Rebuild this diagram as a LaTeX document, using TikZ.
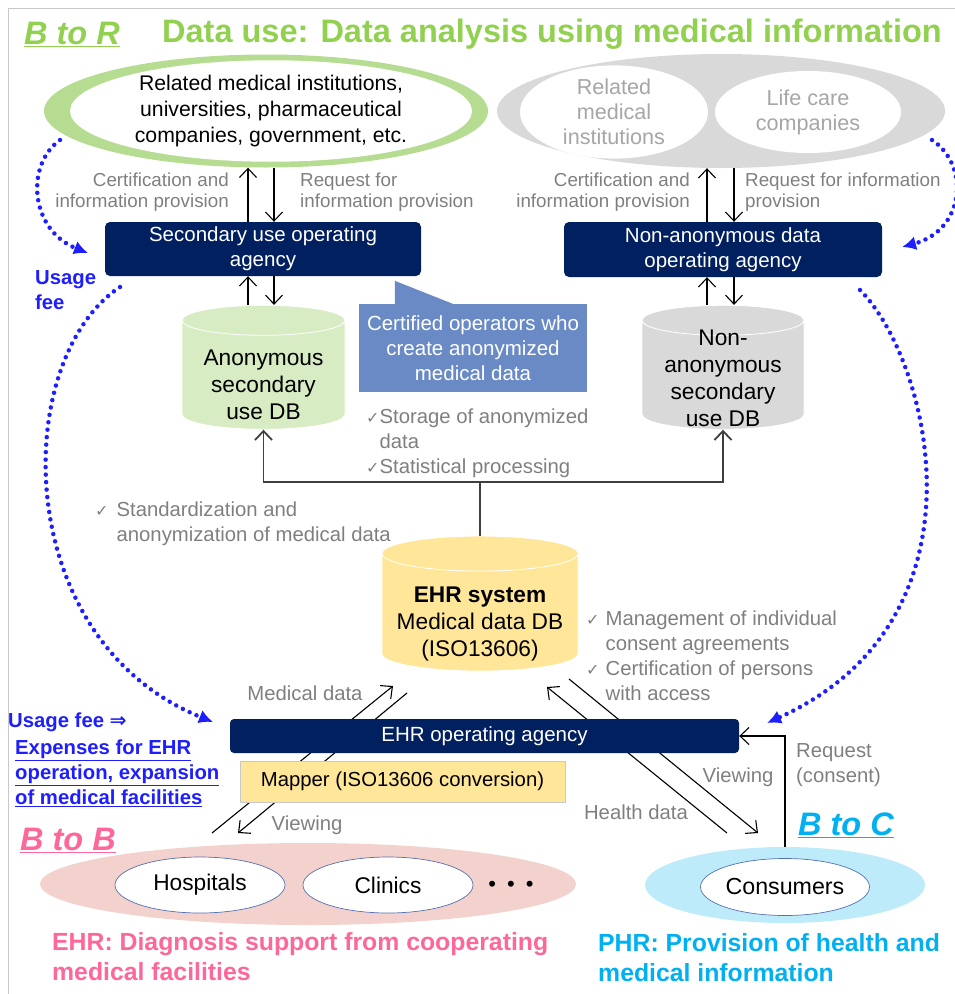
\documentclass[tikz,border=0pt]{standalone}
\usepackage{fontspec}
\setmainfont{Liberation Sans}
\newfontfamily\symfont{DejaVu Sans}
\usetikzlibrary{arrows.meta,shapes.geometric,backgrounds}
\definecolor{navy}{HTML}{002060}
\definecolor{leafgreen}{HTML}{92D050}
\definecolor{ringgreen}{HTML}{B5DC91}
\definecolor{dbgreen}{HTML}{D8ECC4}
\definecolor{ringgray}{HTML}{D9D9D9}
\definecolor{txtgray}{HTML}{7F7F7F}
\definecolor{softgray}{HTML}{A6A6A6}
\definecolor{darkline}{HTML}{404040}
\definecolor{callblue}{HTML}{6A8AC6}
\definecolor{ehryellow}{HTML}{FFE699}
\definecolor{bbpink}{HTML}{FF6699}
\definecolor{ringpink}{HTML}{F3D1CD}
\definecolor{bccyan}{HTML}{00B0F0}
\definecolor{ringcyan}{HTML}{BDEBFA}
\definecolor{feeblue}{HTML}{1E1EFF}
\definecolor{rimblue}{HTML}{5570B0}
\definecolor{framegray}{HTML}{C8C8C8}
\newcommand{\chk}{{\symfont\fontsize{16}{16}\selectfont ✓}}
\tikzset{>={Straight Barb[length=9pt,width=17pt]}}
\tikzset{
  ring/.style={ellipse, inner sep=0pt, align=center},
  agency/.style={fill=navy, rounded corners=5pt, text=white, align=center, font=\fontsize{20.5}{25}\selectfont},
  db/.style={cylinder, shape border rotate=90, aspect=0.2, draw=white, line width=0.8pt, inner sep=0pt, text width=#1},
  dbtext/.style={align=center, inner sep=0pt, font=\fontsize{22.7}{27}\selectfont},
  note/.style={text=txtgray, align=left, inner sep=0pt, font=\fontsize{20.3}{25}\selectfont},
  tag/.style={note, font=\fontsize{18.8}{21.5}\selectfont},
  flow/.style={->, line width=1.1pt},
  fee/.style={feeblue, line width=4.5pt, line cap=round, dash pattern=on 0pt off 7.5pt, -{Latex[length=14pt,width=14pt]}},
  head/.style={font=\fontsize{32.5}{36}\selectfont\bfseries, inner sep=0pt},
  feetext/.style={text=feeblue, font=\fontsize{20.3}{25}\selectfont\bfseries, align=left, anchor=west, inner sep=0pt},
  footer/.style={font=\fontsize{24.8}{30}\selectfont\bfseries, align=left, anchor=west, inner sep=0pt},
}
\begin{document}
\begin{tikzpicture}[x=1pt,y=-1pt]
\useasboundingbox (0,0) rectangle (955,994);
\draw[framegray, line width=1pt] (8,994) -- (8,8) -- (955,8);

% headings
\node[head, text=leafgreen] (bToR) at (72,34) {\underline{\itshape B to R}};
\node[head, text=leafgreen] (useTitle) at (552,34) {Data use: Data analysis using medical information};

% users of the data
\node[ring, fill=ringgreen, minimum width=444pt, minimum height=113pt] (ringL) at (266,111) {};
\node[ring, fill=white, minimum width=402pt, minimum height=96pt, font=\fontsize{21.2}{26}\selectfont] (instL) at (271,111)
  {Related medical institutions,\\universities, pharmaceutical\\companies, government, etc.};
\node[ring, fill=ringgray, minimum width=448pt, minimum height=114pt] (ringR) at (721,111) {};
\node[ring, fill=white, text=softgray, minimum width=188pt, minimum height=82pt, font=\fontsize{21.6}{25}\selectfont] (instR) at (614,112)
  {Related\\medical\\institutions};
\node[ring, fill=white, text=softgray, minimum width=186pt, minimum height=82pt, font=\fontsize{21.6}{25}\selectfont] (lifeR) at (808,112)
  {Life care\\companies};

% operating agencies
\node[agency, minimum width=316pt, minimum height=54pt] (secAg) at (263,249) {Secondary use operating\\agency};
\node[agency, minimum width=318pt, minimum height=55pt] (nonAg) at (723,249.5) {Non-anonymous data\\operating agency};

\draw[flow] ([xshift=-15pt]secAg.north) -- ([xshift=-18pt]ringL.south);
\draw[flow] ([xshift=8pt]ringL.south) -- ([xshift=11pt]secAg.north);
\draw[flow] ([xshift=-16pt]nonAg.north) -- ([xshift=-14pt]ringR.south);
\draw[flow] ([xshift=13pt]ringR.south) -- ([xshift=11pt]nonAg.north);
\node[tag, align=right, anchor=east] (certL) at (229,192) {Certification and\\information provision};
\node[tag, anchor=west] (reqL) at (300,192) {Request for\\information provision};
\node[tag, align=right, anchor=east] (certR) at (690,192) {Certification and\\information provision};
\node[tag, anchor=west] (reqR) at (745,192) {Request for information\\provision};

% secondary use databases
\node[db=150pt, fill=dbgreen, minimum width=163pt, minimum height=124pt] (anonDB) at (263.5,375) {};
\node[dbtext] (anonTxt) at ([yshift=-10pt]anonDB.center) {Anonymous\\secondary\\use DB};
\node[db=150pt, fill=ringgray, minimum width=162pt, minimum height=124pt] (nonDB) at (723,375) {};
\node[dbtext] (nonTxt) at ([yshift=-3pt]nonDB.center) {Non-\\anonymous\\secondary\\use DB};
\draw[flow] ([xshift=-15.5pt]anonDB.north) -- ([xshift=-15pt]secAg.south);
\draw[flow] ([xshift=11pt]secAg.south) -- ([xshift=10.5pt]anonDB.north);
\draw[flow] ([xshift=-16pt]nonDB.north) -- ([xshift=-16pt]nonAg.south);
\draw[flow] ([xshift=11pt]nonAg.south) -- ([xshift=11pt]nonDB.north);

\node[fill=callblue, text=white, minimum width=228pt, minimum height=88pt, align=center, font=\fontsize{20.5}{25}\selectfont] (callout) at (473,348)
  {Certified operators who\\create anonymized\\medical data};
\fill[callblue] (callout.north west) ++(36,0) -- ++(0,-23) -- ++(58,23) -- cycle;
\node[note, anchor=west] (storeNote) at (366,443) {\chk Storage of anonymized\\\hphantom{\chk}data\\\chk Statistical processing};
\node[note, anchor=west] (stdNote) at (95,524) {\chk\hspace{8pt}Standardization and\\\hphantom{\chk\hspace{8pt}}anonymization of medical data};

% EHR system
\node[db=175pt, fill=ehryellow, minimum width=196pt, minimum height=135pt] (ehrDB) at (480,612.5) {};
\node[dbtext] (ehrTxt) at ([yshift=-12pt]ehrDB.center) {\textbf{EHR system}\\Medical data DB\\(ISO13606)};
\draw[line width=1.8pt, darkline] (ehrDB.north) -- ++(0,-54) coordinate (split);
\draw[flow, line width=1.8pt, darkline] (split) -| (anonDB.south);
\draw[flow, line width=1.8pt, darkline] (split) -| (nonDB.south);
\node[note, anchor=west] (mgmtNote) at (586,656) {\chk\hspace{6pt}Management of individual\\\hphantom{\chk\hspace{6pt}}consent agreements\\\chk\hspace{6pt}Certification of persons\\\hphantom{\chk\hspace{6pt}}with access};

\node[agency, rounded corners=4pt, minimum width=509pt, minimum height=34pt] (ehrAg) at (484.5,736) {EHR operating agency};
\node[fill=ehryellow, draw=framegray, line width=0.6pt, minimum width=325pt, minimum height=41pt, font=\fontsize{20.3}{24}\selectfont] (mapper) at (402.5,781.5)
  {Mapper (ISO13606 conversion)};

% data flows behind the boxes
\coordinate (hospUp) at (212,833);   \coordinate (ehrInL) at (393,686);
\coordinate (ehrOutL) at (407,693);  \coordinate (hospDown) at (238,833);
\coordinate (consUp) at (727,833);   \coordinate (ehrInR) at (547,687);
\coordinate (ehrOutR) at (569,679);  \coordinate (consDown) at (758,833);
\begin{pgfonlayer}{background}
\draw[flow] (hospUp) -- (ehrInL);
\draw[flow] (ehrOutL) -- (hospDown);
\draw[flow] (consUp) -- (ehrInR);
\draw[flow] (ehrOutR) -- (consDown);
\end{pgfonlayer}
\node[note] (mdTag) at (305,693) {Medical data};
\node[note] (viewL) at (307,825) {Viewing};
\node[note] (healthTag) at (636,812) {Health data};
\node[note] (viewR) at (738,777) {Viewing};

% users of the EHR
\node[ring, fill=ringpink, minimum width=536pt, minimum height=82pt] (bbRing) at (308,884) {};
\node[ring, fill=white, draw=rimblue, line width=0.7pt, minimum width=170pt, minimum height=56pt, font=\fontsize{22.7}{26}\selectfont] (hosp) at (200,885) {Hospitals};
\node[ring, fill=white, draw=rimblue, line width=0.7pt, minimum width=170pt, minimum height=56pt, font=\fontsize{22.7}{26}\selectfont] (clin) at (388,885) {Clinics};
\node[font=\fontsize{22}{26}\selectfont, inner sep=0pt] (more) at (511,886) {•\hspace{11pt}•\hspace{11pt}•};
\node[ring, fill=ringcyan, minimum width=280pt, minimum height=76pt] (bcRing) at (785,885) {};
\node[ring, fill=white, draw=rimblue, line width=0.7pt, minimum width=169pt, minimum height=57pt, font=\fontsize{23.2}{26}\selectfont] (cons) at (785,887) {Consumers};
\draw[flow] (bcRing.north) |- (ehrAg.east);
\node[note, anchor=west] (reqTag) at (796,765) {Request\\(consent)};

\node[head, text=bbpink] (bToB) at (68,840) {\underline{\itshape B to B}};
\node[head, text=bccyan] (bToC) at (846,825) {\underline{\itshape B to C}};
\node[footer, text=bbpink] (ehrNote) at (52,957) {EHR: Diagnosis support from cooperating\\medical facilities};
\node[footer, text=bccyan] (phrNote) at (598,958) {PHR: Provision of health and\\medical information};

% usage fees
\node[feetext] (feeTop) at (35,290) {Usage\\fee};
\node[feetext] (feeBot) at (8,722) {Usage fee {\symfont ⇒}};
\node[feetext] (expense) at (15,773) {\underline{Expenses for EHR}\\\underline{operation, expansion}\\\underline{of medical facilities}};
\coordinate (feeLa) at (60,140);  \coordinate (feeLb) at (88,253);
\coordinate (feeLc) at (120,287); \coordinate (feeLd) at (213,722);
\coordinate (feeRa) at (932,140); \coordinate (feeRb) at (902,247);
\coordinate (feeRc) at (860,290); \coordinate (feeRd) at (767,723);
\draw[fee] (feeLa) .. controls (25,165) and (30,230) .. (feeLb);
\draw[fee] (feeLc) .. controls (10,360) and (10,640) .. (feeLd);
\draw[fee] (feeRa) .. controls (970,165) and (965,230) .. (feeRb);
\draw[fee] (feeRc) .. controls (930,360) and (995,620) .. (feeRd);
\end{tikzpicture}
\end{document}
